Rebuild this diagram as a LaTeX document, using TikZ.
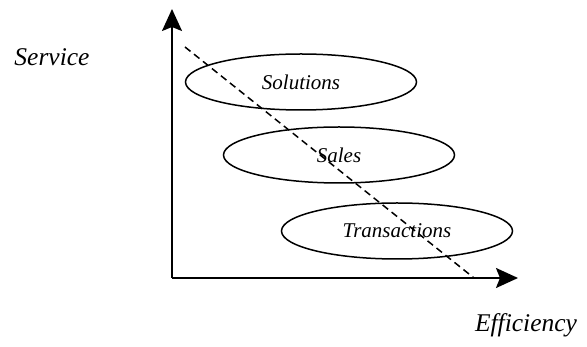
\documentclass[tikz,border=0pt]{standalone}
\usepackage{fontspec}
\setmainfont{Liberation Serif}
\usetikzlibrary{arrows.meta,shapes.geometric}
\begin{document}
\begin{tikzpicture}[x=1pt,y=-1pt,
  axis/.style={line width=2pt,-{Stealth[length=22pt,width=20pt,inset=4pt]}},
  band/.style={draw,ellipse,line width=1.5pt,minimum width=231pt,minimum height=56pt,inner sep=0pt,
    font=\fontsize{21}{24}\selectfont\itshape},
  axlabel/.style={font=\fontsize{25.5}{30}\selectfont\itshape},
  trend/.style={line width=1.5pt,dash pattern=on 7pt off 4.5pt}]
  \useasboundingbox (0,0) rectangle (587,347);
  % axes
  \coordinate (origin) at (172,278);
  \coordinate (ytip) at (172,9);
  \coordinate (xtip) at (518,278);
  \draw[axis] (origin) -- (ytip);
  \draw[axis] (origin) -- (xtip);
  % market segments
  \node[band] (solutions) at (301,82) {Solutions};
  \node[band] (sales) at (339,155) {Sales};
  \node[band] (transactions) at (397,231) {Transactions};
  % trade-off line
  \coordinate (dstart) at (185,47);
  \coordinate (dend) at (474,278);
  \draw[trend] (dstart) -- (dend);
  % axis labels
  \node[axlabel] (service) at (52,57) {Service};
  \node[axlabel] (efficiency) at (526,325) {Efficiency};
\end{tikzpicture}
\end{document}
